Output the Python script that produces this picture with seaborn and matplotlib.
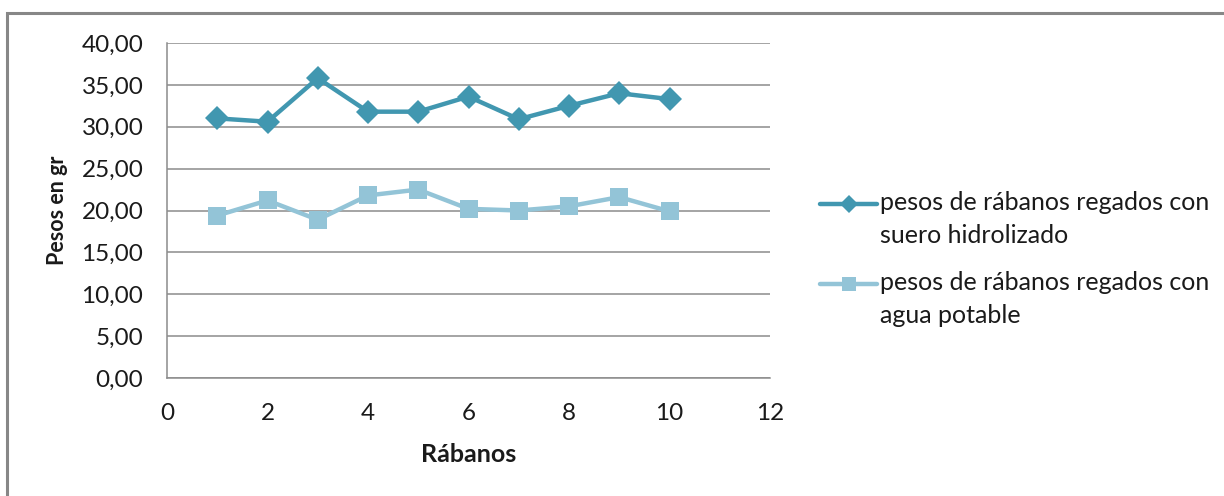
import matplotlib
matplotlib.use("Agg")
import matplotlib.pyplot as plt
import matplotlib.patches as mpatches
from matplotlib.legend_handler import HandlerLine2D
import seaborn as sns
import pandas as pd

# Radish weights (g) for two irrigation treatments
rabanos = [1, 2, 3, 4, 5, 6, 7, 8, 9, 10]
suero_hidrolizado = [31.0, 30.6, 35.8, 31.8, 31.8, 33.6, 30.9, 32.5, 34.0, 33.3]
agua_potable = [19.4, 21.2, 18.9, 21.8, 22.5, 20.2, 20.0, 20.5, 21.6, 19.9]

label_suero = "pesos de rábanos regados con\nsuero hidrolizado"
label_agua = "pesos de rábanos regados con\nagua potable"

y_ticks = [0, 5, 10, 15, 20, 25, 30, 35, 40]
x_ticks = [0, 2, 4, 6, 8, 10, 12]


class FirstLineHandler(HandlerLine2D):
    """Legend line handle aligned with the first line of a two-line label."""

    def adjust_drawing_area(self, *args):
        xd, yd, w, h = super().adjust_drawing_area(*args)
        return xd, yd - 23, w, h


sns.set_theme(style="white")
plt.rcParams["font.family"] = ["Lato", "DejaVu Sans"]

fig = plt.figure(figsize=(12.24, 4.96), dpi=100)
ax = fig.add_axes([167 / 1224, 1 - 378 / 496, (770 - 167) / 1224, (378 - 43) / 496])

# Outer chart frame
frame = mpatches.Rectangle((7 / 1224, -0.1), 1.2, 1 - 13 / 496 + 0.1,
                           transform=fig.transFigure, fill=False,
                           edgecolor="#878787", linewidth=2.2, zorder=0)
fig.patches.append(frame)

df_s = pd.DataFrame({"x": rabanos, "y": suero_hidrolizado})
df_a = pd.DataFrame({"x": rabanos, "y": agua_potable})

sns.lineplot(data=df_s, x="x", y="y", ax=ax, color="#4197B0", linewidth=3.2,
             marker="D", markersize=12, markeredgewidth=0, label=label_suero)
sns.lineplot(data=df_a, x="x", y="y", ax=ax, color="#93C4D7", linewidth=3.2,
             marker="s", markersize=12.5, markeredgewidth=0, label=label_agua)

ax.set_xlim(0, 12)
ax.set_ylim(0, 40)
ax.set_xticks(x_ticks)
ax.set_yticks(y_ticks)
ax.set_yticklabels([f"{v:.2f}".replace(".", ",") for v in y_ticks])
ax.tick_params(axis="both", length=0, labelsize=17.5, colors="#1a1a1a")
ax.tick_params(axis="x", pad=18)
ax.tick_params(axis="y", pad=17)
ax.grid(axis="y", color="#8c8c8c", linewidth=1.1)
ax.set_axisbelow(True)
for side in ["top", "right"]:
    ax.spines[side].set_visible(False)
for side in ["left", "bottom"]:
    ax.spines[side].set_color("#8c8c8c")
    ax.spines[side].set_linewidth(1.1)

ax.set_xlabel("Rábanos", fontsize=18, fontweight="bold", labelpad=14, color="#1a1a1a")
ax.set_ylabel("Pesos en gr", fontsize=15.5, fontweight="bold", labelpad=10, color="#1a1a1a")

handles, labels = ax.get_legend_handles_labels()
leg = ax.legend(handles, labels, loc="center left",
                bbox_to_anchor=(820 / 1224, 1 - 259 / 496),
                bbox_transform=fig.transFigure, frameon=False, fontsize=18,
                handlelength=2.3, handletextpad=0.1, labelspacing=0.98,
                borderaxespad=0, borderpad=0, markerscale=0.8,
                handler_map={h: FirstLineHandler() for h in handles})
for t in leg.get_texts():
    t.set_color("#1a1a1a")
    t.set_linespacing(1.5)

fig.savefig("out.png", dpi=100, facecolor="white")
